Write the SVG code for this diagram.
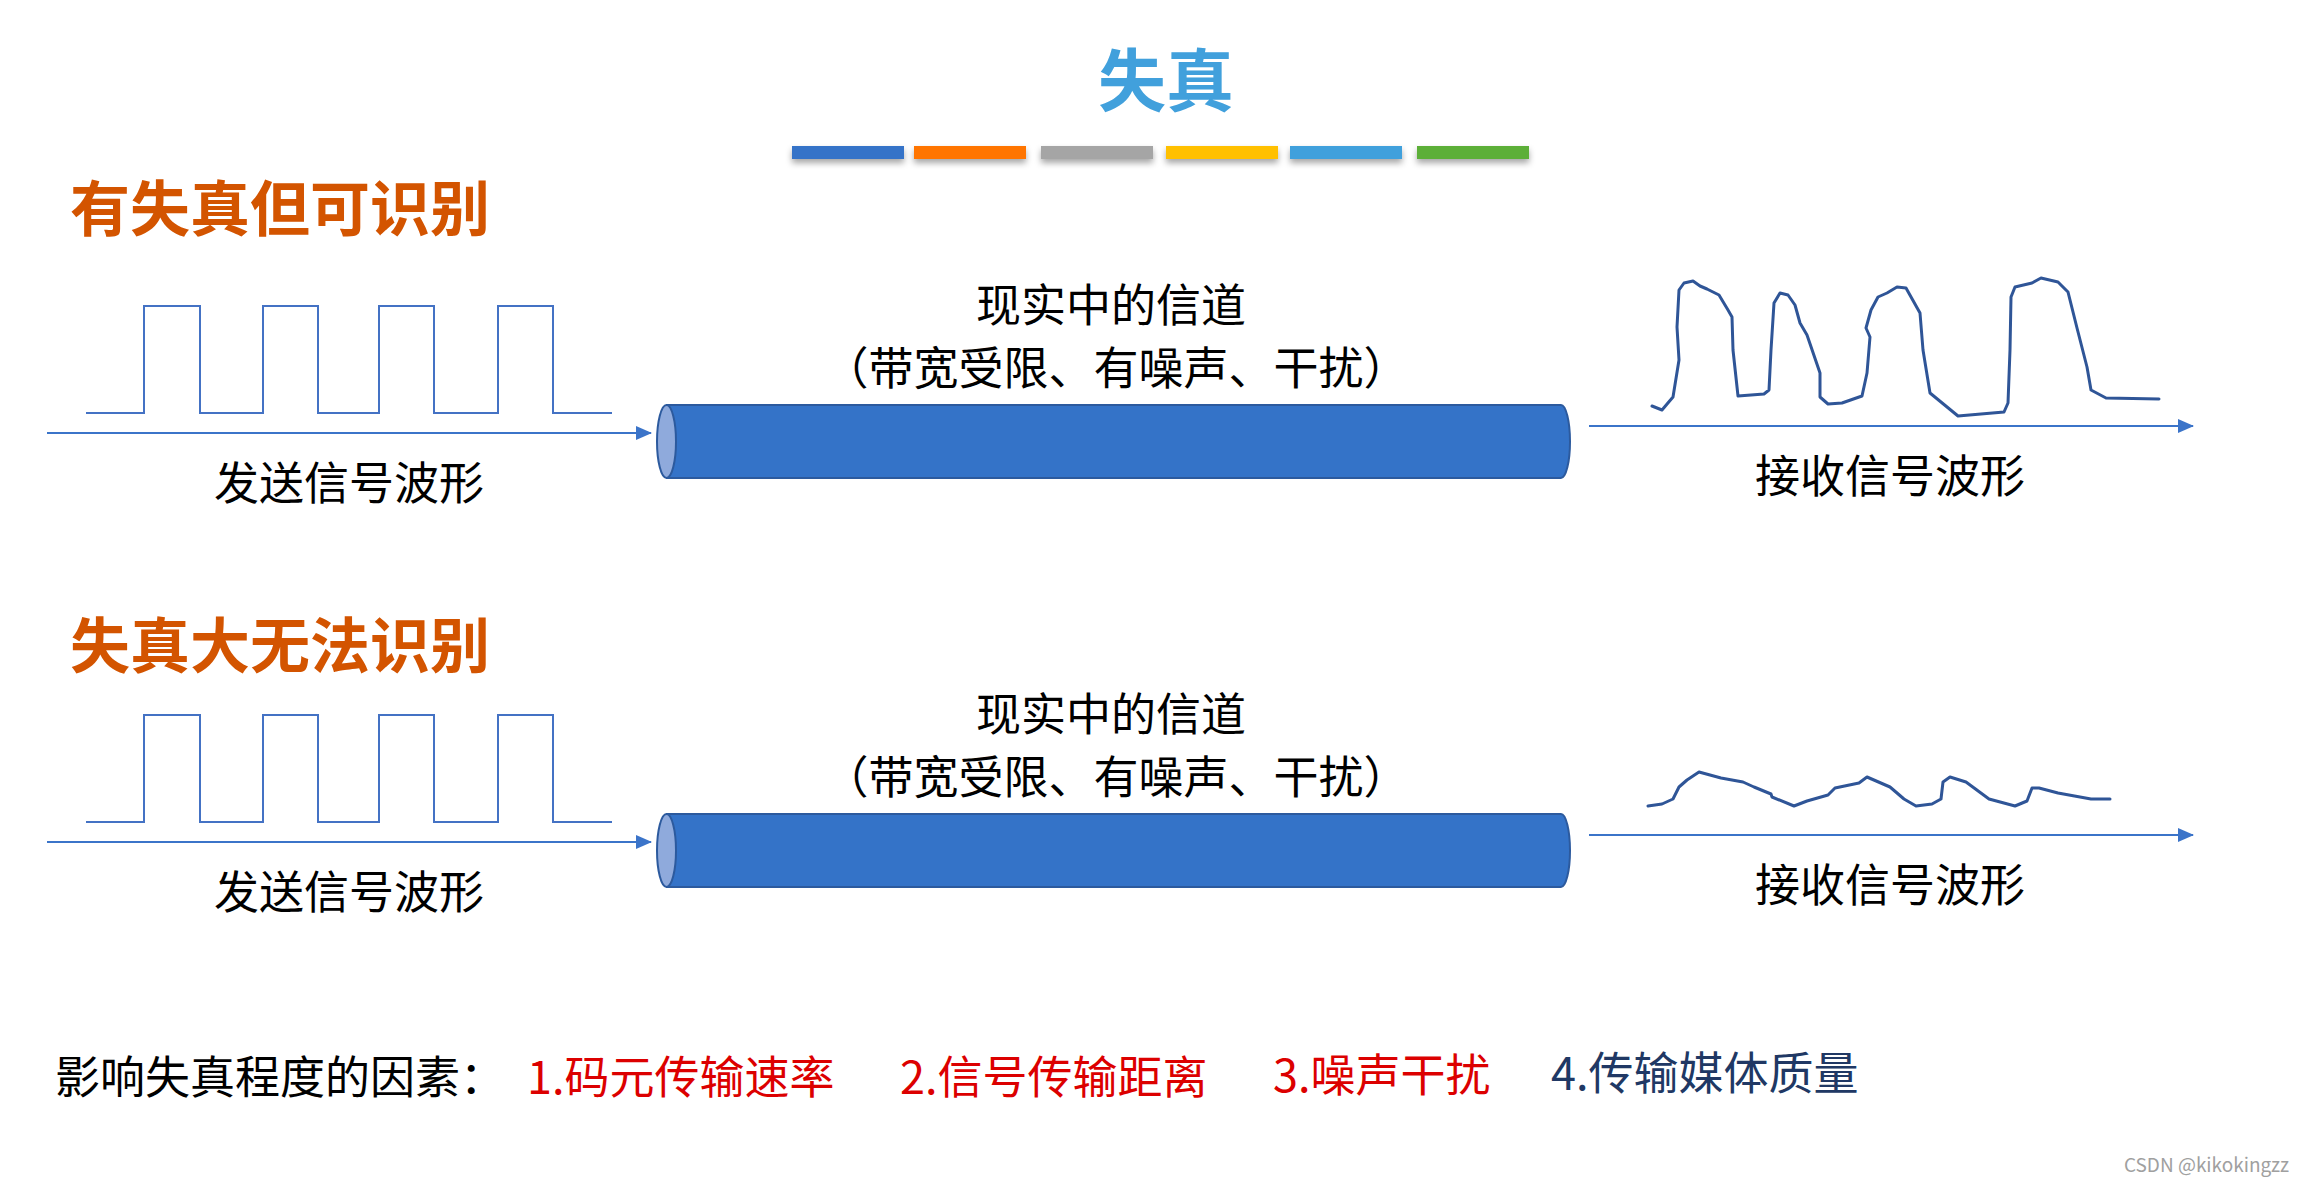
<svg xmlns="http://www.w3.org/2000/svg" width="2304" height="1184" viewBox="0 0 2304 1184">
<style>
text{font-family:"Noto Sans CJK SC","Noto Sans",sans-serif}
.t{font-size:45px;fill:#000}
.h{font-size:60px;font-weight:700;fill:#D35400}
.sq{fill:none;stroke:#4472C4;stroke-width:2}
.ax{fill:none;stroke:#3B74C9;stroke-width:2}
.rw{fill:none;stroke:#2F5597;stroke-width:3;stroke-linejoin:round;stroke-linecap:round}
.cyl{fill:#3473C8;stroke:#2C5A9E;stroke-width:2}
.cap{fill:#8FAADC;stroke:#2C5A9E;stroke-width:2}
.red{font-size:45px;fill:#DC0000}
</style>
<defs>
<filter id="sh" x="-10%" y="-50%" width="120%" height="250%">
<feDropShadow dx="0" dy="4" stdDeviation="3" flood-color="#000" flood-opacity="0.35"/>
</filter>
<marker id="ah" markerWidth="16" markerHeight="14" refX="15" refY="7" orient="auto" markerUnits="userSpaceOnUse">
<path d="M0,0 L16,7 L0,14 Z" fill="#3B74C9"/>
</marker>
<g id="sendwave">
<polyline class="sq" points="86,413 144,413 144,306 200,306 200,413 263,413 263,306 318,306 318,413 379,413 379,306 434,306 434,413 498,413 498,306 553,306 553,413 612,413"/>
</g>
</defs>

<g id="title">
<text x="1166" y="106" text-anchor="middle" font-size="68" font-weight="700" fill="#41A0DC">失真</text>
</g>
<g id="colorbars" filter="url(#sh)">
<rect x="792" y="146" width="112" height="13" fill="#3473C8"/>
<rect x="914" y="146" width="112" height="13" fill="#FF7500"/>
<rect x="1041" y="146" width="112" height="13" fill="#A5A5A5"/>
<rect x="1166" y="146" width="112" height="13" fill="#FFC000"/>
<rect x="1290" y="146" width="112" height="13" fill="#41A0DC"/>
<rect x="1417" y="146" width="112" height="13" fill="#5BAF37"/>
</g>

<g id="heading1"><text class="h" x="70" y="231">有失真但可识别</text></g>
<g id="heading2"><text class="h" x="70" y="668">失真大无法识别</text></g>

<g id="section1">
<g id="send1">
<use href="#sendwave"/>
<text class="t" x="349" y="500" text-anchor="middle">发送信号波形</text>
</g>
<g id="channel1">
<text class="t" x="1111" y="322" text-anchor="middle">现实中的信道</text>
<text class="t" x="1116" y="385" text-anchor="middle">（带宽受限、有噪声、干扰）</text>
<path class="cyl" d="M667,405 H1561 A9,36.5 0 0 1 1561,478 H667 Z"/>
<ellipse class="cap" cx="666.5" cy="441.5" rx="9.5" ry="36.5"/>
</g>
<g id="recv1">
<polyline class="rw" points="1652,406 1662,410 1673,397 1679,360 1677,327 1679,290 1684,283 1693,281 1700,286 1707,289 1719,295 1728,310 1732,317 1733,350 1738,396 1764,394 1769,390 1771,350 1774,303 1780,293 1788,295 1795,305 1800,323 1807,335 1820,373 1820,397 1828,404 1842,403 1862,396 1867,373 1870,337 1866,328 1871,310 1878,297 1887,293 1897,287 1906,288 1920,313 1923,350 1930,393 1958,416 2004,412 2008,403 2010,350 2011,297 2015,287 2032,283 2041,278 2058,282 2068,292 2077,328 2087,367 2091,390 2106,398 2159,399"/>
<text class="t" x="1890" y="493" text-anchor="middle">接收信号波形</text>
</g>
</g>

<g id="section2">
<g id="send2">
<use href="#sendwave" y="409"/>
<text class="t" x="349" y="909" text-anchor="middle">发送信号波形</text>
</g>
<g id="channel2">
<text class="t" x="1111" y="731" text-anchor="middle">现实中的信道</text>
<text class="t" x="1116" y="794" text-anchor="middle">（带宽受限、有噪声、干扰）</text>
<path class="cyl" d="M667,814 H1561 A9,36.5 0 0 1 1561,887 H667 Z"/>
<ellipse class="cap" cx="666.5" cy="850.5" rx="9.5" ry="36.5"/>
</g>
<g id="recv2">
<polyline class="rw" points="1648,806 1662,804 1673,799 1679,787 1687,780 1699,772 1721,778 1743,782 1754,787 1771,794 1772,797 1794,806 1807,801 1828,795 1835,788 1859,783 1867,777 1890,787 1904,799 1916,806 1932,804 1941,799 1943,782 1950,777 1966,782 1989,799 2015,806 2027,801 2032,788 2039,788 2058,793 2091,799 2110,799"/>
<text class="t" x="1890" y="902" text-anchor="middle">接收信号波形</text>
</g>
</g>

<g id="connectors">
<line class="ax" x1="47" y1="433" x2="651" y2="433" marker-end="url(#ah)"/>
<line class="ax" x1="1589" y1="426" x2="2193" y2="426" marker-end="url(#ah)"/>
<line class="ax" x1="47" y1="842" x2="651" y2="842" marker-end="url(#ah)"/>
<line class="ax" x1="1589" y1="835" x2="2193" y2="835" marker-end="url(#ah)"/>
</g>

<g id="factors">
<text class="t" x="55" y="1094">影响失真程度的因素：</text>
<text class="red" x="527" y="1094">1.码元传输速率</text>
<text class="red" x="900" y="1094">2.信号传输距离</text>
<text class="red" x="1273" y="1092">3.噪声干扰</text>
<text x="1551" y="1090" font-size="45" fill="#203864">4.传输媒体质量</text>
</g>
<text x="2289" y="1172" text-anchor="end" font-family="Liberation Sans, sans-serif" font-size="19" fill="#A0A0A0">CSDN @kikokingzz</text>
</svg>
